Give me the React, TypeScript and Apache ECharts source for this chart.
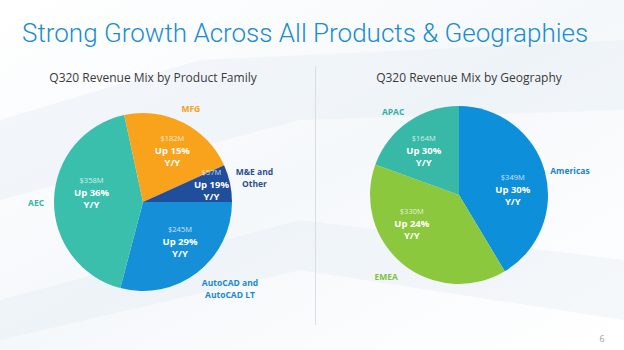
import React, { useEffect, useRef } from "react";
import * as echarts from "echarts";

// ---- Data ----
const pageTitle = "Strong Growth Across All Products & Geographies";
const productTitle = "Q320 Revenue Mix by Product Family";
const geoTitle = "Q320 Revenue Mix by Geography";
const pageNumber = "6";

// clockwise from 3 o'clock
const productFamilies = ["AutoCAD and\nAutoCAD LT", "AEC", "MFG", "M&E and\nOther"];
const productRevenue = [245, 358, 182, 57]; // $M
const productGrowth = [29, 36, 15, 19]; // % Y/Y

// clockwise from 12 o'clock
const geographies = ["Americas", "EMEA", "APAC"];
const geoRevenue = [349, 330, 164]; // $M
const geoGrowth = [30, 24, 30]; // % Y/Y

// ---- Styles ----
const productColors = ["#1590d8", "#3bbfad", "#f9a21b", "#1f4e9c"];
const productNameColors = ["#1a8ad0", "#33b5a3", "#f5a020", "#2b4f8f"];
const geoColors = ["#0e8fd9", "#8cc83e", "#38b8a6"];
const geoNameColors = ["#1a85c8", "#84c040", "#33b09f"];

const productInnerOffsets = [[8, 1], [-4, -9], [8, -10], [22, -8]];
const productOuterOffsets = [[18, -3], [6, 3], [-3, 7], [1, -1]];
const geoInnerOffsets = [[8, 7], [-17, -9], [-8, -6]];
const geoOuterOffsets = [[2, 6], [-1, -6], [-1, 9]];

const FONT = "'Open Sans', 'Noto Sans', sans-serif";
const R = 89;

function makePie(
  names: string[],
  values: number[],
  growth: number[],
  colors: string[],
  nameColors: string[],
  center: number[],
  startAngle: number,
  innerOff: number[][],
  outerOff: number[][]
) {
  const inner = {
    type: "pie",
    center,
    radius: [0, R],
    startAngle,
    clockwise: true,
    silent: true,
    avoidLabelOverlap: false,
    labelLine: { show: false },
    itemStyle: { borderWidth: 0 },
    label: {
      show: true,
      position: "inside",
      fontFamily: FONT,
      formatter: (p: any) =>
        `{v|$${values[p.dataIndex]}M}\n{b|Up ${growth[p.dataIndex]}%}\n{b|Y/Y}`,
      rich: {
        v: { fontFamily: FONT, fontSize: 7.5, color: "rgba(255,255,255,0.78)", lineHeight: 13 },
        b: { fontFamily: FONT, fontSize: 9.5, fontWeight: "bold", color: "#ffffff", lineHeight: 12 },
      },
    },
    data: names.map((n, i) => ({
      name: n,
      value: values[i],
      itemStyle: { color: colors[i] },
      label: { offset: innerOff[i] },
    })),
  };
  const outer = {
    type: "pie",
    center,
    radius: [R, R + 42],
    startAngle,
    clockwise: true,
    silent: true,
    avoidLabelOverlap: false,
    labelLine: { show: false },
    itemStyle: { color: "transparent", borderWidth: 0 },
    label: {
      show: true,
      position: "inside",
      formatter: "{b}",
      fontFamily: FONT,
      fontSize: 8.5,
      fontWeight: "bold",
      lineHeight: 12,
      align: "center",
    },
    data: names.map((n, i) => ({
      name: n,
      value: values[i],
      label: { color: nameColors[i], offset: outerOff[i] },
    })),
  };
  return [inner, outer];
}

export default function App() {
  const ref = useRef<HTMLDivElement>(null);
  useEffect(() => {
    if (!ref.current) return;
    const chart = echarts.init(ref.current, undefined, { renderer: "svg" });
    chart.setOption({
      animation: false,
      backgroundColor: {
        type: "linear",
        x: 0,
        y: 0,
        x2: 1,
        y2: 1,
        colorStops: [
          { offset: 0, color: "#ffffff" },
          { offset: 0.5, color: "#f5f8fb" },
          { offset: 1, color: "#ffffff" },
        ],
      },
      graphic: [
        {
          type: "polygon",
          silent: true,
          shape: { points: [[0, 120], [200, 60], [624, 40], [624, 110], [300, 120], [0, 200]] },
          style: { fill: "rgba(225,235,244,0.35)" },
          z: -10,
        },
        {
          type: "polygon",
          silent: true,
          shape: { points: [[0, 300], [300, 220], [624, 260], [624, 320], [300, 270], [0, 340]] },
          style: { fill: "rgba(225,235,244,0.35)" },
          z: -10,
        },
        {
          type: "text",
          x: 22,
          y: 33,
          style: {
            text: pageTitle,
            fontFamily: "Roboto, sans-serif",
            fontSize: 26,
            fontWeight: 300,
            fill: "#1b8dd0",
            verticalAlign: "middle",
          },
        },
        {
          type: "text",
          x: 153,
          y: 77,
          style: {
            text: productTitle,
            fontFamily: FONT,
            fontSize: 12,
            fill: "#3a3a3a",
            align: "center",
            verticalAlign: "middle",
          },
        },
        {
          type: "text",
          x: 469,
          y: 77,
          style: {
            text: geoTitle,
            fontFamily: FONT,
            fontSize: 12,
            fill: "#3a3a3a",
            align: "center",
            verticalAlign: "middle",
          },
        },
        {
          type: "line",
          silent: true,
          shape: { x1: 315.5, y1: 66, x2: 315.5, y2: 325 },
          style: { stroke: "#d9dee3", lineWidth: 1 },
        },
        {
          type: "text",
          x: 602,
          y: 338,
          style: {
            text: pageNumber,
            fontFamily: FONT,
            fontSize: 9,
            fill: "#9aa0a6",
            align: "center",
            verticalAlign: "middle",
          },
        },
      ],
      series: [
        ...makePie(
          productFamilies,
          productRevenue,
          productGrowth,
          productColors,
          productNameColors,
          [143, 202],
          0,
          productInnerOffsets,
          productOuterOffsets
        ),
        ...makePie(
          geographies,
          geoRevenue,
          geoGrowth,
          geoColors,
          geoNameColors,
          [459, 195],
          90,
          geoInnerOffsets,
          geoOuterOffsets
        ),
      ],
    });
    return () => chart.dispose();
  }, []);
  return (
    <div
      ref={ref}
      style={{ position: "fixed", left: 0, top: 0, width: 624, height: 350 }}
    />
  );
}
